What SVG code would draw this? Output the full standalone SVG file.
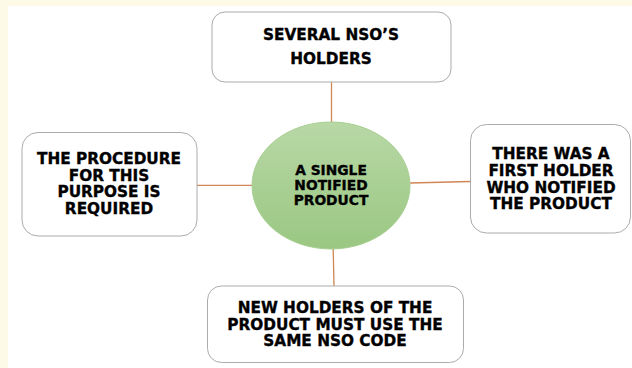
<svg xmlns="http://www.w3.org/2000/svg" width="632" height="368" viewBox="0 0 632 368">
<style>
.box{fill:#ffffff;stroke:#ababab;stroke-width:1}
.t{font-family:"DejaVu Sans","Liberation Sans",sans-serif;font-weight:bold;fill:#000;stroke:#000;stroke-width:0.35;text-anchor:middle}
.big{font-size:15.3px}
.mid{font-size:13.8px}
.conn{stroke:#d08655;stroke-width:1.3;fill:none}
</style>
<defs>
<linearGradient id="g" x1="0" y1="0" x2="0" y2="1">
<stop offset="0" stop-color="#b8d8a6"/>
<stop offset="1" stop-color="#9ac782"/>
</linearGradient>
</defs>
<rect x="0" y="0" width="632" height="368" fill="#fefae8"/>
<rect x="8" y="6" width="624" height="362" fill="#ffffff"/>
<g id="connectors">
<line class="conn" x1="331.5" y1="82" x2="331.5" y2="122"/>
<line class="conn" x1="197" y1="185.3" x2="252" y2="185.3"/>
<line class="conn" x1="410" y1="183" x2="470" y2="181.5"/>
<line class="conn" x1="333.2" y1="249" x2="334" y2="286"/>
</g>
<g id="center">
<ellipse cx="331" cy="185.5" rx="79" ry="63.5" fill="url(#g)" stroke="#a8cf92" stroke-width="1"/>
<text class="t mid" x="331" y="175">A SINGLE</text>
<text class="t mid" x="331" y="190">NOTIFIED</text>
<text class="t mid" x="331" y="205">PRODUCT</text>
</g>
<g id="top">
<rect class="box" x="212" y="12" width="239" height="70" rx="13"/>
<text class="t big" x="331" y="40">SEVERAL NSO’S</text>
<text class="t big" x="331" y="64">HOLDERS</text>
</g>
<g id="left">
<rect class="box" x="22" y="132.5" width="175" height="103.5" rx="16"/>
<text class="t big" x="109" y="164">THE PROCEDURE</text>
<text class="t big" x="109" y="180.7">FOR THIS</text>
<text class="t big" x="109" y="197.3">PURPOSE IS</text>
<text class="t big" x="109" y="214">REQUIRED</text>
</g>
<g id="right">
<rect class="box" x="470.5" y="124.5" width="160" height="108.5" rx="16"/>
<text class="t big" x="551" y="159">THERE WAS A</text>
<text class="t big" x="551" y="176">FIRST HOLDER</text>
<text class="t big" x="551" y="192.7">WHO NOTIFIED</text>
<text class="t big" x="551" y="209.3">THE PRODUCT</text>
</g>
<g id="bottom">
<rect class="box" x="207.5" y="286" width="256" height="76.5" rx="14"/>
<text class="t big" x="335" y="313">NEW HOLDERS OF THE</text>
<text class="t big" x="335" y="329.7">PRODUCT MUST USE THE</text>
<text class="t big" x="335" y="346.3">SAME NSO CODE</text>
</g>
</svg>
